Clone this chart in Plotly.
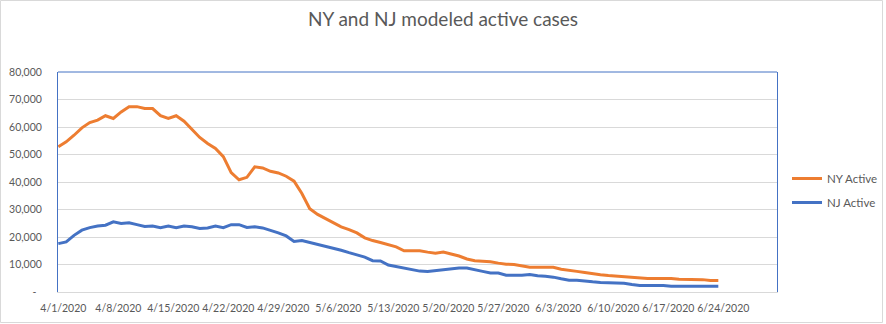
import pandas as pd
import plotly.graph_objects as go

# Daily modeled active cases, 4/1/2020 through 6/24/2020
dates = pd.date_range("2020-04-01", "2020-06-24", freq="D")

ny_active = [
    52800, 54600, 57000, 59700, 61600, 62500, 64100, 63100, 65500, 67400,
    67400, 66700, 66700, 64100, 63100, 64100, 62100, 59100, 56200, 54000,
    52200, 49200, 43400, 40800, 41700, 45500, 45100, 43900, 43300, 42100,
    40300, 35800, 30300, 28200, 26700, 25500, 23700, 22700, 21500, 19700,
    18700, 18000, 17200, 16400, 15000, 15000, 15000, 14500, 14100, 14500,
    13700, 13100, 12000, 11400, 11200, 11000, 10500, 10100, 10000, 9600,
    9000, 9000, 9000, 9000, 8300, 7800, 7500, 7100, 6600, 6300,
    6000, 5800, 5500, 5200, 5100, 4900, 4900, 5000, 4900, 4600,
    4600, 4600, 4500, 4200, 4200,
]

nj_active = [
    17600, 18200, 20600, 22500, 23400, 24000, 24300, 25500, 24900, 25200,
    24500, 23800, 24000, 23400, 24000, 23400, 24000, 23700, 23100, 23300,
    24000, 23400, 24500, 24500, 23500, 23700, 23300, 22500, 21500, 20400,
    18400, 18700, 18000, 17500, 16700, 16100, 15200, 14300, 13600, 12700,
    11400, 11300, 9800, 9300, 8600, 8100, 7600, 7500, 7800, 8100,
    8400, 8700, 8700, 8000, 7500, 6900, 6900, 6100, 6100, 6100,
    6400, 5900, 5700, 5400, 4800, 4300, 4300, 3900, 3700, 3500,
    3400, 3400, 3200, 2700, 2400, 2400, 2400, 2400, 2100, 2100,
    2100, 2100, 2100, 2100, 2100,
]

y_ticks = [0, 10000, 20000, 30000, 40000, 50000, 60000, 70000, 80000]
y_tick_text = ["-\u00a0\u00a0"] + [f"{v:,}" for v in y_ticks[1:]]
x_ticks = pd.date_range("2020-04-01", "2020-06-24", freq="7D")
x_tick_text = [f"{d.month}/{d.day}/{d.year}" for d in x_ticks]

W, H = 886, 324
L, R, T, B = 58, 109, 72, 32
plot_w = W - L - R
px_per_day = 7.857

FONT = "Lato, 'Open Sans', sans-serif"
GREY_TEXT = "#595959"
GRID = "#D9D9D9"
ORANGE = "#ED7D31"
BLUE = "#4472C4"

fig = go.Figure()
fig.add_trace(go.Scatter(
    x=dates, y=ny_active, name="NY Active", mode="lines",
    line=dict(color=ORANGE, width=3), legendgroup="ny",
))
fig.add_trace(go.Scatter(
    x=dates, y=nj_active, name="NJ Active", mode="lines",
    line=dict(color=BLUE, width=3), legendgroup="nj",
))

x_start = dates[0] - pd.Timedelta(hours=1)
x_end = x_start + pd.Timedelta(days=plot_w / px_per_day)


def px_to_paper_x(px):
    return (px - L) / plot_w


def px_to_paper_y(py):
    return (H - B - py) / (H - T - B)


fig.update_layout(
    width=W, height=H,
    margin=dict(l=L, r=R, t=T, b=B, pad=0, autoexpand=False),
    paper_bgcolor="white", plot_bgcolor="white",
    font=dict(family=FONT, size=12, color=GREY_TEXT),
    title=dict(
        text="NY and NJ modeled active cases",
        font=dict(family=FONT, size=19, color=GREY_TEXT),
        x=0.5, xref="container", xanchor="center",
        y=1 - 19 / H, yref="container", yanchor="middle",
    ),
    showlegend=True,
    legend=dict(
        x=px_to_paper_x(787), y=px_to_paper_y(164),
        xanchor="left", yanchor="top",
        traceorder="grouped", tracegroupgap=5,
        font=dict(family=FONT, size=11.5, color=GREY_TEXT),
        bgcolor="rgba(0,0,0,0)", itemwidth=30,
    ),
    xaxis=dict(
        type="date", range=[x_start, x_end], automargin=False,
        tickvals=x_ticks, ticktext=x_tick_text, ticklabelshift=5,
        tickangle=0,
        showgrid=False, zeroline=False,
        showline=True, linecolor=GRID, linewidth=1,
        ticks="outside", ticklen=6, tickcolor="rgba(0,0,0,0)",
        tickfont=dict(family=FONT, size=10.5, color=GREY_TEXT),
    ),
    yaxis=dict(
        range=[0, 80000], tickvals=y_ticks, ticktext=y_tick_text,
        automargin=False,
        showgrid=True, gridcolor=GRID, gridwidth=1, zeroline=False,
        showline=True, linecolor=BLUE, linewidth=1, mirror=True,
        ticks="outside", ticklen=13, tickcolor="rgba(0,0,0,0)",
        tickfont=dict(family=FONT, size=10.5, color=GREY_TEXT),
    ),
    shapes=[
        # top edge of the plot area
        dict(type="line", xref="paper", yref="paper", x0=0, x1=1, y0=1, y1=1,
             line=dict(color=BLUE, width=1)),
        # outer chart border
        dict(type="rect", xref="paper", yref="paper",
             x0=px_to_paper_x(0.5), x1=px_to_paper_x(882.5),
             y0=px_to_paper_y(322.5), y1=px_to_paper_y(0.5),
             line=dict(color=GRID, width=1), layer="below"),
    ],
)

fig.write_html("out.html")
